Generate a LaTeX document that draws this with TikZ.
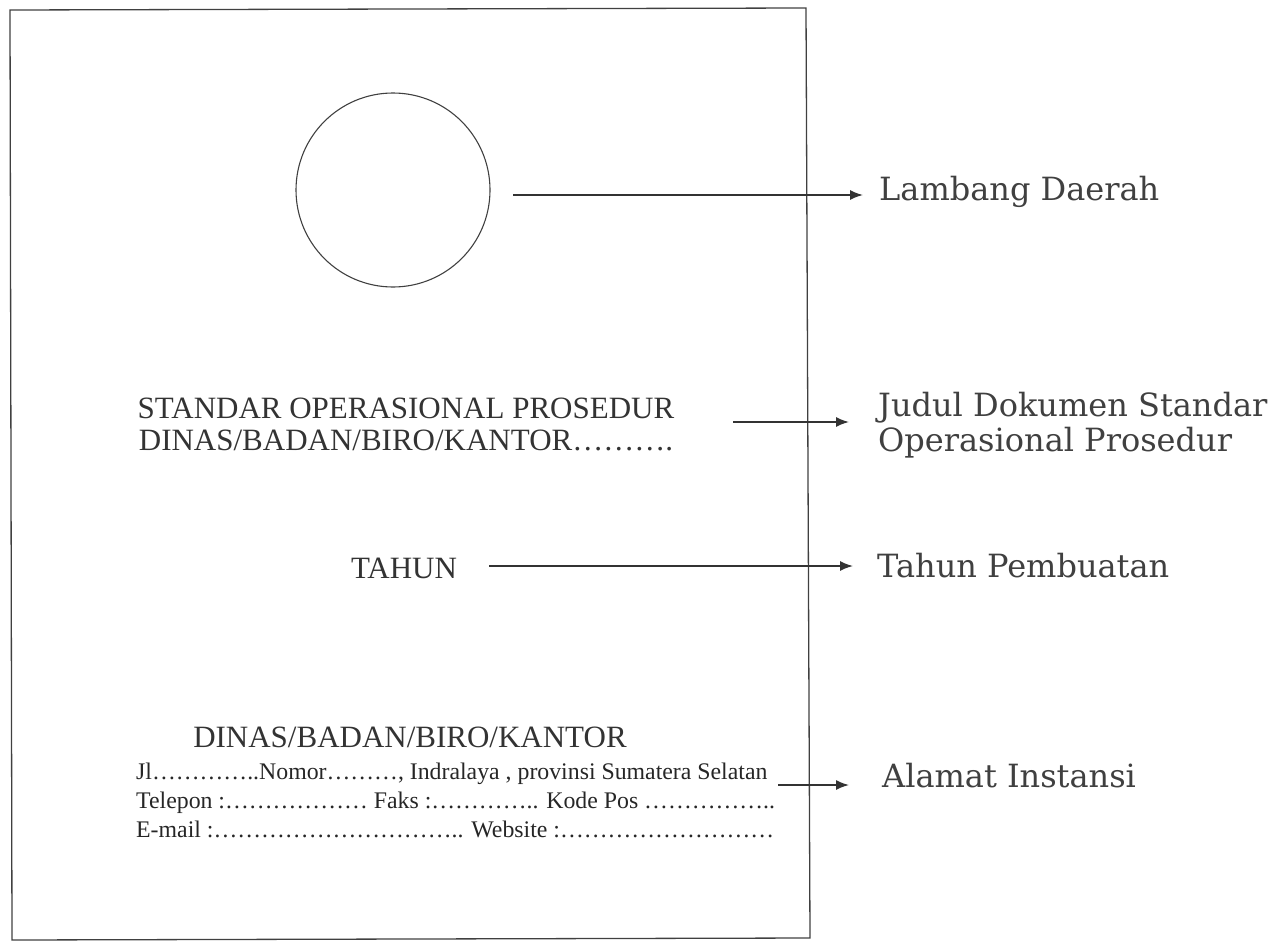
\documentclass[tikz,border=0pt]{standalone}
\usepackage{fontspec}
\usetikzlibrary{arrows.meta}
\setmainfont{Liberation Serif}
\newfontfamily\labelfont{DejaVu Serif}
\begin{document}
\begin{tikzpicture}[x=1pt,y=-1pt,
  frame/.style={draw=black!75, line width=1.3pt},
  big/.style={font=\fontsize{31}{32}\selectfont, text=black!80, inner sep=0pt, align=center},
  small/.style={font=\fontsize{23.8}{29}\selectfont, text=black!85, inner sep=0pt, align=left},
  lbl/.style={font=\labelfont\fontsize{32}{35}\selectfont, text=black!75, inner sep=0pt, align=left},
  arr/.style={draw=black!80, line width=1.6pt, -{Latex[length=13pt,width=10pt]}}]
\useasboundingbox (0,0) rectangle (1284,942);
\draw[frame] (10,10) -- (806,8) -- (810,938) -- (12,940) -- cycle;
% logo
\node[circle, draw=black!75, line width=1.1pt, minimum size=194pt, inner sep=0pt] (logo) at (393,190) {};
\node[lbl, anchor=west] (l1) at (879,192) {Lambang Daerah};
\coordinate (a1) at (513,195);
\draw[arr, shorten >=16pt] (a1) -- (l1.west |- a1);
% title
\node[big] (sop) at (406,424) {STANDAR OPERASIONAL PROSEDUR\\DINAS/BADAN/BIRO/KANTOR……….};
\node[lbl, anchor=west] (l2) at (878,425) {Judul Dokumen Standar\\Operasional Prosedur};
\coordinate (a2) at (733,422);
\draw[arr, shorten >=29pt] (a2) -- (l2.west |- a2);
% year
\node[big] (tahun) at (404,568) {TAHUN};
\node[lbl, anchor=west] (l3) at (877,566) {Tahun Pembuatan};
\draw[arr, shorten >=24pt] (tahun.east)++(32,-2) coordinate (a3) -- (l3.west |- a3);
% address
\node[big] (inst) at (410,737) {DINAS/BADAN/BIRO/KANTOR};
\node[small, anchor=north west] (addr) at (136,763) {Jl…………..Nomor………, Indralaya , provinsi Sumatera Selatan\\Telepon :……………… Faks :………….. Kode Pos ……………..\\E-mail :………………………….. Website :………………………};
\node[lbl, anchor=west] (l4) at (882,776) {Alamat Instansi};
\coordinate (a4) at (778,785);
\draw[arr, shorten >=33pt] (a4) -- (l4.west |- a4);
\end{tikzpicture}
\end{document}
